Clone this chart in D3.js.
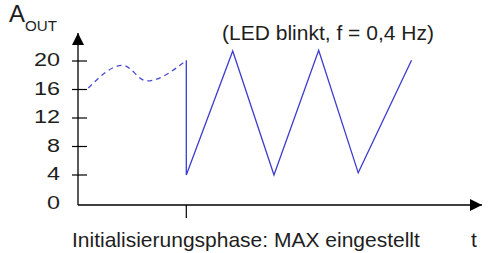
<!DOCTYPE html>
<html>
<head>
<meta charset="utf-8">
<script src="https://cdn.jsdelivr.net/npm/d3@7"></script>
<style>
  body { margin: 0; background: white; }
  text { font-family: "Liberation Sans", Arial, sans-serif; fill: #1e1e1e; }
</style>
</head>
<body>
<div id="chart"></div>
<script>
// values (t in seconds, A_OUT)
const yTicks = [0, 4, 8, 12, 16, 20];
const initT = [0.3, 1.3, 2.0, 3.15];
const initA = [16.2, 19.4, 17.2, 20.1];
const blinkT = [3.15, 3.15, 4.5, 5.7, 7.0, 8.15, 9.7];
const blinkA = [20.1, 4.0, 21.4, 4.0, 21.5, 4.3, 20.1];
const initEnd = 3.15;

const width = 488, height = 253;
const xAxisY = 205, yAxisX = 78;

const svg = d3.select('#chart').append('svg')
    .attr('width', width)
    .attr('height', height);

const x = d3.scaleLinear().domain([0, 11.75]).range([yAxisX, 482]);
const y = d3.scaleLinear().domain([0, 20]).range([203.5, 61]);

// arrow heads
const defs = svg.append('defs');
defs.append('marker')
    .attr('id', 'arrow')
    .attr('viewBox', '0 0 12 12')
    .attr('refX', 12).attr('refY', 6)
    .attr('markerWidth', 13).attr('markerHeight', 12)
    .attr('markerUnits', 'userSpaceOnUse')
    .attr('orient', 'auto')
    .append('path')
    .attr('d', 'M0,0 L12,6 L0,12 Z')
    .attr('fill', 'black');

// y axis
svg.append('line')
    .attr('x1', yAxisX).attr('y1', xAxisY)
    .attr('x2', yAxisX).attr('y2', 33)
    .attr('stroke', 'black').attr('stroke-width', 1.3)
    .attr('marker-end', 'url(#arrow)');

// x axis
svg.append('line')
    .attr('x1', yAxisX).attr('y1', xAxisY)
    .attr('x2', 482).attr('y2', xAxisY)
    .attr('stroke', 'black').attr('stroke-width', 1.3)
    .attr('marker-end', 'url(#arrow)');

// y ticks
const tickG = svg.append('g');
tickG.selectAll('line')
    .data(yTicks.filter(d => d > 0))
    .enter().append('line')
    .attr('x1', yAxisX - 6).attr('x2', yAxisX + 9)
    .attr('y1', d => y(d)).attr('y2', d => y(d))
    .attr('stroke', 'black').attr('stroke-width', 1.2);
tickG.selectAll('text')
    .data(yTicks)
    .enter().append('text')
    .attr('x', 60)
    .attr('y', d => y(d) + 5)
    .attr('text-anchor', 'end')
    .attr('font-size', '17.5px')
    .attr('textLength', d => String(d).length * 13)
    .attr('lengthAdjust', 'spacingAndGlyphs')
    .text(d => d);

// tick at end of init phase
svg.append('line')
    .attr('x1', x(initEnd)).attr('x2', x(initEnd))
    .attr('y1', xAxisY).attr('y2', 218)
    .attr('stroke', 'black').attr('stroke-width', 1.2);

// dashed init curve
const initLine = d3.line()
    .x(d => x(d[0]))
    .y(d => y(d[1]))
    .curve(d3.curveMonotoneX);
svg.append('path')
    .attr('d', initLine(d3.zip(initT, initA)))
    .attr('fill', 'none')
    .attr('stroke', '#4a4ad8')
    .attr('stroke-width', 1.3)
    .attr('stroke-dasharray', '5,4');

// blinking triangle wave
const blinkLine = d3.line()
    .x(d => x(d[0]))
    .y(d => y(d[1]));
svg.append('path')
    .attr('d', blinkLine(d3.zip(blinkT, blinkA)))
    .attr('fill', 'none')
    .attr('stroke', '#3c3cd0')
    .attr('stroke-width', 1.3);

// labels
const aLabel = svg.append('text')
    .attr('x', 9).attr('y', 22)
    .attr('font-size', '24px');
aLabel.append('tspan').text('A');
aLabel.append('tspan')
    .attr('dy', 9)
    .attr('font-size', '14px')
    .attr('textLength', 32)
    .attr('lengthAdjust', 'spacingAndGlyphs')
    .text('OUT');

svg.append('text')
    .attr('x', 328).attr('y', 40)
    .attr('text-anchor', 'middle')
    .attr('font-size', '21px')
    .text('(LED blinkt, f = 0,4 Hz)');

svg.append('text')
    .attr('x', 72).attr('y', 247)
    .attr('font-size', '21px')
    .text('Initialisierungsphase: MAX eingestellt');

svg.append('text')
    .attr('x', 471).attr('y', 247)
    .attr('font-size', '21px')
    .text('t');
</script>
</body>
</html>
